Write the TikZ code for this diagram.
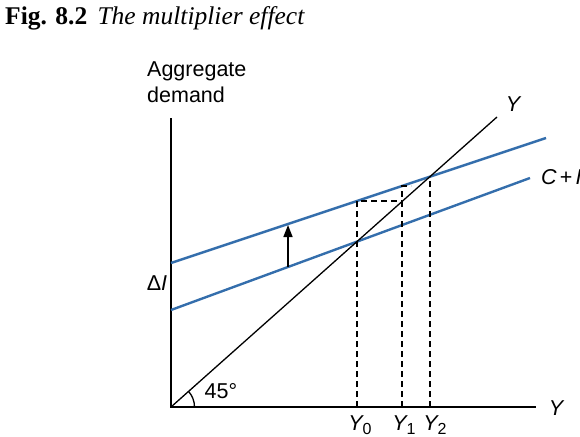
\documentclass[tikz,border=0pt]{standalone}
\usepackage{fontspec}
\setmainfont{Liberation Serif}
\newfontfamily\lsans{Liberation Sans}
\usetikzlibrary{arrows.meta}
\definecolor{lineblue}{RGB}{52,110,172}
\begin{document}
\begin{tikzpicture}[x=1pt,y=-1pt,
  axis/.style={line width=1.5pt,black},
  bluel/.style={line width=2.4pt,lineblue},
  diag/.style={line width=1.3pt,black},
  dsh/.style={line width=1.2pt,black,dash pattern=on 6pt off 4pt},
  lab/.style={font=\lsans\fontsize{21.5}{26}\selectfont,inner sep=0pt}]
\useasboundingbox (0,0) rectangle (580,436);
% title
\node[anchor=base west,inner sep=0pt,font=\fontsize{25.5}{30}\selectfont] (title) at (5,25) {\textbf{Fig. 8.2}\hspace{0.4em}\textit{The multiplier effect}};
% coordinates
\coordinate (O) at (171,407);
\coordinate (ytop) at (171,118);
\coordinate (xend) at (536,407);
\coordinate (dend) at (497,117);
\coordinate (l0) at (171,310);
\coordinate (l1) at (530,178);
\coordinate (u0) at (171,263);
\coordinate (u1) at (546,138);
% axes
\draw[axis] (ytop) -- (O) -- (xend);
% lines
\draw[bluel] (l0) -- (l1);
\draw[bluel] (u0) -- (u1);
\draw[diag] (O) -- (dend);
% dashed staircase
\coordinate (a0) at (357,407);
\coordinate (a1) at (357,201);
\coordinate (b1) at (402,201);
\coordinate (b2) at (402,186);
\coordinate (b0) at (402,407);
\coordinate (c1) at (411,186);
\coordinate (d1) at (430,177);
\coordinate (d0) at (430,407);
\draw[dsh] (a0) -- (a1) -- (b1);
\draw[dsh] (b0) -- (b2) -- (c1);
\draw[dsh] (d0) -- (d1);
% arrow
\coordinate (ar0) at (288,267);
\coordinate (ar1) at (288,225);
\draw[line width=1.5pt,-{Triangle[length=12pt,width=9pt]}] (ar0) -- (ar1);
% angle
\draw[line width=1.3pt] (194.5,407) arc[start angle=0,end angle=-41.7,radius=23.5];
% labels
\node[lab,anchor=north west,align=left] (ad) at (147,62) {Aggregate\\demand};
\node[lab] (yd) at (513,104) {\itshape Y};
\node[lab,anchor=west] (ci) at (541,177) {{\itshape C}\hspace{0.15em}+\hspace{0.15em}{\itshape I}};
\node[lab] (di) at (157,283) {Δ{\itshape I}};
\node[lab] (ang) at (221,391) {45°};
\node[lab] (yx) at (556,408) {\itshape Y};
\node[lab] (y0) at (360,425) {{\itshape Y}\raisebox{-0.3ex}{\fontsize{16}{19}\selectfont 0}};
\node[lab] (y1) at (404,425) {{\itshape Y}\raisebox{-0.3ex}{\fontsize{16}{19}\selectfont 1}};
\node[lab] (y2) at (435,425) {{\itshape Y}\raisebox{-0.3ex}{\fontsize{16}{19}\selectfont 2}};
\end{tikzpicture}
\end{document}
